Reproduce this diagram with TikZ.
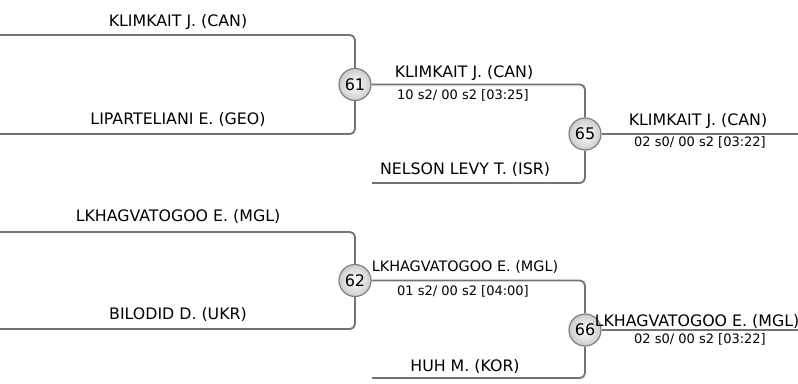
\documentclass[tikz,border=0pt]{standalone}
\usepackage{fontspec}
\setmainfont{DejaVu Sans}
\usetikzlibrary{backgrounds}
\begin{document}
\begin{tikzpicture}[x=1pt,y=-1pt]
        \tikzset{
            wire/.style={draw=black!55,line width=1.8pt,rounded corners=5pt},
            bout/.style={circle,draw=black!50,line width=1.2pt,inner color=white,outer color=black!20,
                minimum size=32pt,inner sep=0pt,font=\fontsize{16}{16}\selectfont},
            fighter/.style={anchor=base,inner sep=0pt,font=\fontsize{15.8}{18}\selectfont},
            score/.style={anchor=base,inner sep=0pt,font=\fontsize{13}{15}\selectfont}
        }
        \useasboundingbox (0,0) rectangle (798,383);

        % line ends
        \coordinate (s1) at (0,35);
        \coordinate (s2) at (0,134);
        \coordinate (s3) at (372,183);
        \coordinate (s4) at (0,232);
        \coordinate (s5) at (0,329);
        \coordinate (s6) at (372,378);
        \coordinate (f65) at (798,134);
        \coordinate (f66) at (798,330);

        % bouts
        \node[bout] (m61) at (355,84.5) {61};
        \node[bout] (m65) at (585,134) {65};
        \node[bout] (m62) at (355,280.5) {62};
        \node[bout] (m66) at (585,330) {66};

        \begin{pgfonlayer}{background}
            \draw[wire] (s1) -| (m61);
            \draw[wire] (s2) -| (m61);
            \draw[wire] (m61) -| (m65);
            \draw[wire] (s3) -| (m65);
            \draw[wire] (m65) -- (f65);
            \draw[wire] (s4) -| (m62);
            \draw[wire] (s5) -| (m62);
            \draw[wire] (m62) -| (m66);
            \draw[wire] (s6) -| (m66);
            \draw[wire] (m66) -- (f66);
        \end{pgfonlayer}

        % names
        \node[fighter] (klimA) at (178,26) {KLIMKAIT J. (CAN)};
        \node[fighter] (lipa) at (178,124.5) {LIPARTELIANI E. (GEO)};
        \node[fighter] (klimB) at (464,77.5) {KLIMKAIT J. (CAN)};
        \node[score] (sc61) at (463,99) {10 s2/ 00 s2 [03:25]};
        \node[fighter] (nels) at (465,174) {NELSON LEVY T. (ISR)};
        \node[fighter] (klimC) at (698,125) {KLIMKAIT J. (CAN)};
        \node[score] (sc65) at (700,146.5) {02 s0/ 00 s2 [03:22]};

        \node[fighter] (lkhA) at (178,221) {LKHAGVATOGOO E. (MGL)};
        \node[fighter] (bilo) at (178,319) {BILODID D. (UKR)};
        \node[fighter,font=\fontsize{14.4}{17}\selectfont] (lkhB) at (465,271) {LKHAGVATOGOO E. (MGL)};
        \node[score] (sc62) at (463,295) {01 s2/ 00 s2 [04:00]};
        \node[fighter] (huh) at (465,371) {HUH M. (KOR)};
        \node[fighter] (lkhC) at (697,326) {LKHAGVATOGOO E. (MGL)};
        \node[score] (sc66) at (700,343) {02 s0/ 00 s2 [03:22]};
    \end{tikzpicture}
\end{document}
